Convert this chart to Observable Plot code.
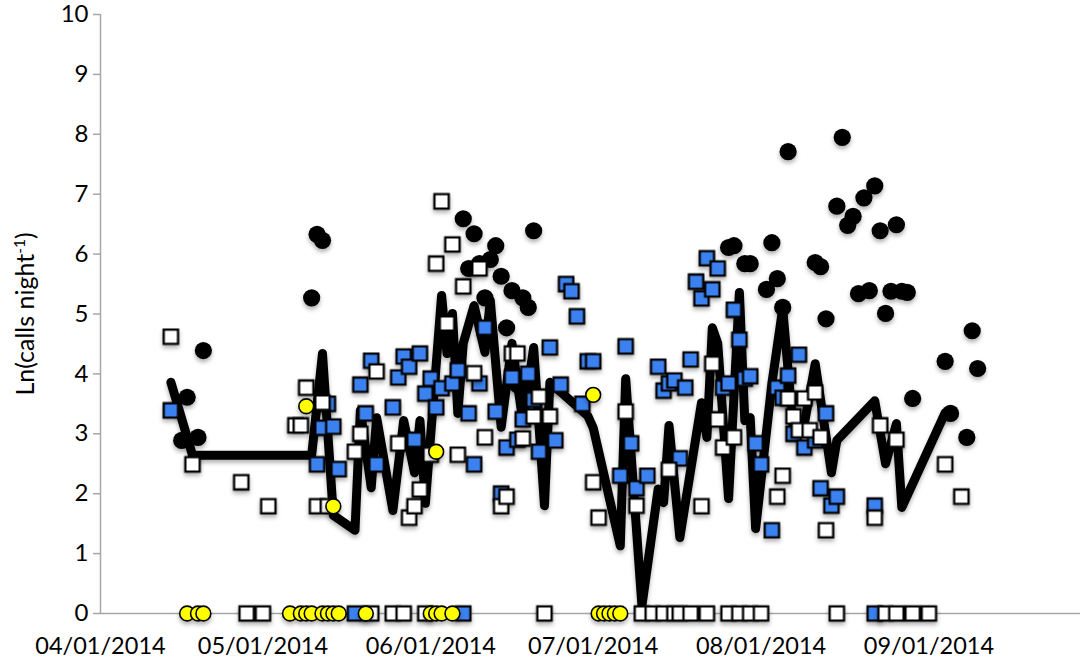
<!DOCTYPE html>
<html><head><meta charset="utf-8">
<script src="https://cdn.jsdelivr.net/npm/d3@7"></script>
<script src="https://cdn.jsdelivr.net/npm/@observablehq/plot@0.6"></script>
<style>
html,body{margin:0;padding:0;background:#fff;}
#chart svg{display:block;}
</style></head><body><div id="chart"></div>
<script>
// Series 1: black circles
const blackCircles = [
["2014-04-16",2.89],["2014-04-17",3.61],["2014-04-19",2.94],["2014-04-20",4.39],
["2014-05-10",5.27],["2014-05-11",6.33],["2014-05-12",6.23],
["2014-06-07",6.59],["2014-06-08",5.76],["2014-06-09",6.34],["2014-06-10",5.84],["2014-06-11",5.27],["2014-06-12",5.91],["2014-06-13",6.14],["2014-06-14",5.63],["2014-06-15",4.77],["2014-06-16",5.39],["2014-06-17",3.82],["2014-06-18",5.27],["2014-06-19",5.11],["2014-06-20",6.39],
["2014-07-26",6.11],["2014-07-27",6.14],["2014-07-29",5.84],["2014-07-30",5.84],["2014-08-02",5.41],["2014-08-03",6.19],["2014-08-04",5.59],["2014-08-05",5.11],["2014-08-06",7.71],["2014-08-11",5.86],["2014-08-12",5.79],["2014-08-13",4.92],["2014-08-15",6.8],["2014-08-16",7.95],["2014-08-17",6.48],["2014-08-18",6.63],["2014-08-19",5.34],["2014-08-20",6.94],["2014-08-21",5.39],["2014-08-22",7.14],["2014-08-23",6.39],["2014-08-24",5.01],["2014-08-25",5.38],["2014-08-26",6.49],["2014-08-27",5.38],["2014-08-28",5.36],["2014-08-29",3.59],["2014-09-04",4.21],["2014-09-05",3.34],["2014-09-08",2.94],["2014-09-09",4.72],["2014-09-10",4.09]
];
// Series 2: blue squares
const blueSquares = [
["2014-04-14",3.39],
["2014-05-11",2.49],["2014-05-12",3.1],["2014-05-13",3.5],["2014-05-14",3.12],["2014-05-15",2.41],["2014-05-18",0],
["2014-05-19",3.82],["2014-05-20",3.34],["2014-05-21",4.22],["2014-05-22",2.49],["2014-05-25",3.44],["2014-05-26",3.94],["2014-05-27",4.29],["2014-05-28",4.12],["2014-05-29",2.9],["2014-05-30",4.34],["2014-05-31",3.67],
["2014-06-01",3.92],["2014-06-02",3.44],["2014-06-03",3.76],["2014-06-05",3.84],["2014-06-06",4.06],["2014-06-07",0],["2014-06-08",3.34],["2014-06-09",2.49],["2014-06-10",3.84],["2014-06-11",4.77],["2014-06-13",3.37],["2014-06-14",2.0],["2014-06-15",2.77],["2014-06-16",3.94],["2014-06-17",2.9],["2014-06-18",3.24],["2014-06-19",4.0],["2014-06-20",3.57],["2014-06-21",2.7],["2014-06-23",4.44],["2014-06-24",2.89],["2014-06-25",3.82],["2014-06-26",5.5],["2014-06-27",5.38],["2014-06-28",4.96],["2014-06-29",3.5],["2014-06-30",4.21],["2014-07-01",4.21],
["2014-07-06",2.3],["2014-07-07",4.46],["2014-07-08",2.84],["2014-07-09",2.09],["2014-07-11",2.3],["2014-07-13",4.12],["2014-07-14",3.72],["2014-07-15",3.84],["2014-07-16",3.89],["2014-07-17",2.59],["2014-07-18",3.77],["2014-07-19",4.24],["2014-07-20",5.54],["2014-07-21",5.26],["2014-07-22",5.93],["2014-07-23",5.41],["2014-07-24",5.76],["2014-07-25",3.77],["2014-07-26",3.84],["2014-07-27",5.07],["2014-07-28",4.57],["2014-07-29",3.92],["2014-07-30",3.96],["2014-07-31",2.84],
["2014-08-01",2.49],["2014-08-03",1.39],["2014-08-04",3.77],["2014-08-05",3.6],["2014-08-06",3.97],["2014-08-07",3.0],["2014-08-08",4.32],["2014-08-09",2.77],["2014-08-11",2.89],["2014-08-12",2.09],["2014-08-13",3.34],["2014-08-14",1.8],["2014-08-15",1.95],["2014-08-22",1.8],["2014-08-22",0]
];
// Series 3: white squares
const whiteSquares = [
["2014-04-14",4.62],["2014-04-18",2.49],["2014-04-27",2.19],["2014-04-28",0],["2014-05-01",0],["2014-05-02",1.79],["2014-05-07",3.14],["2014-05-08",3.14],["2014-05-09",3.77],["2014-05-11",1.79],["2014-05-12",3.52],["2014-05-13",1.79],["2014-05-18",2.7],["2014-05-19",3.0],["2014-05-21",0],["2014-05-22",4.04],["2014-05-25",0],["2014-05-26",2.84],["2014-05-27",0],["2014-05-28",1.6],["2014-05-29",1.79],["2014-05-30",2.07],["2014-05-31",0],
["2014-06-01",2.65],["2014-06-02",5.84],["2014-06-03",6.88],["2014-06-04",4.84],["2014-06-05",6.16],["2014-06-06",2.65],["2014-06-07",5.46],["2014-06-09",4.01],["2014-06-10",5.76],["2014-06-11",2.94],["2014-06-14",1.79],["2014-06-15",1.95],["2014-06-16",4.34],["2014-06-17",4.34],["2014-06-18",2.92],["2014-06-20",3.29],["2014-06-21",3.62],["2014-06-22",0],["2014-06-23",3.29],
["2014-07-01",2.19],["2014-07-02",1.6],["2014-07-07",3.37],["2014-07-09",1.8],["2014-07-10",0],["2014-07-12",0],["2014-07-14",0],["2014-07-15",2.4],["2014-07-16",0],["2014-07-17",0],["2014-07-19",0],["2014-07-21",1.79],["2014-07-22",0],["2014-07-23",4.17],["2014-07-24",3.24],["2014-07-25",2.77],["2014-07-26",0],["2014-07-27",2.94],["2014-07-28",0],["2014-07-30",0],
["2014-08-01",0],["2014-08-04",1.95],["2014-08-05",2.3],["2014-08-06",3.59],["2014-08-07",3.29],["2014-08-08",3.06],["2014-08-09",3.59],["2014-08-10",3.06],["2014-08-11",3.69],["2014-08-12",2.94],["2014-08-13",1.39],["2014-08-15",0],["2014-08-22",1.6],["2014-08-23",3.14],["2014-08-24",0],["2014-08-26",2.9],["2014-08-26",0],["2014-08-29",0],["2014-09-01",0],["2014-09-04",2.49],["2014-09-07",1.95]
];
// Series 4: yellow circles
const yellowCircles = [
["2014-04-17",0],["2014-04-19",0],["2014-04-20",0],["2014-05-06",0],["2014-05-08",0],["2014-05-09",3.46],["2014-05-09",0],["2014-05-10",0],["2014-05-12",0],["2014-05-13",0],["2014-05-14",1.79],["2014-05-14",0],["2014-05-15",0],["2014-05-20",0],["2014-06-01",0],["2014-06-02",2.7],["2014-06-02",0],["2014-06-03",0],["2014-06-05",0],["2014-07-01",3.65],["2014-07-02",0],["2014-07-03",0],["2014-07-04",0],["2014-07-05",0],["2014-07-06",0]
];
// Series 5: thick black trend line
const trendLine = [
["2014-04-14",3.86],["2014-04-18",2.64],["2014-05-10",2.64],["2014-05-12",4.34],["2014-05-14",1.64],["2014-05-18",1.39],["2014-05-19",3.39],["2014-05-21",2.1],["2014-05-22",3.27],["2014-05-25",1.72],["2014-05-27",3.22],["2014-05-29",2.35],["2014-05-30",3.22],["2014-05-31",1.84],["2014-06-03",5.31],["2014-06-04",4.34],["2014-06-05",5.01],["2014-06-06",3.34],["2014-06-07",4.51],["2014-06-09",5.14],["2014-06-11",4.36],["2014-06-12",5.22],["2014-06-14",3.11],["2014-06-16",4.51],["2014-06-18",3.2],["2014-06-20",4.44],["2014-06-22",1.8],["2014-06-23",3.86],["2014-06-30",3.3],["2014-07-01",3.1],["2014-07-06",1.13],["2014-07-07",3.92],["2014-07-10",0.13],["2014-07-13",2.08],["2014-07-14",1.85],["2014-07-15",3.14],["2014-07-17",1.27],["2014-07-21",3.52],["2014-07-22",2.94],["2014-07-23",4.77],["2014-07-24",4.51],["2014-07-26",1.92],["2014-07-28",5.36],["2014-07-29",3.22],["2014-07-30",3.27],["2014-07-31",1.42],["2014-08-03",3.84],["2014-08-05",5.09],["2014-08-07",3.02],["2014-08-09",3.17],["2014-08-11",4.17],["2014-08-14",2.35],["2014-08-15",2.89],["2014-08-22",3.55],["2014-08-24",2.5],["2014-08-26",3.17],["2014-08-27",1.77],["2014-09-04",3.35]
];
const xTickDates = ["2014-04-01","2014-05-01","2014-06-01","2014-07-01","2014-08-01","2014-09-01"];
const yTickValues = [0,1,2,3,4,5,6,7,8,9,10];
const xDomain = ["2014-04-01","2014-09-29"];
const yLabel = "Ln(calls night-1)";

const parse = d3.utcParse("%Y-%m-%d");
const rows = arr => arr.map(([d, v]) => ({date: parse(d), value: v}));

const chart = Plot.plot({
  width: 1083, height: 665,
  marginLeft: 100, marginRight: 3, marginTop: 14, marginBottom: 52,
  style: {fontFamily: "Lato, 'Open Sans', sans-serif", fontSize: "24px", color: "black", background: "white", overflow: "visible"},
  x: {type: "utc", domain: xDomain.map(parse)},
  y: {domain: [0, 10]},
  marks: [
    Plot.axisY({ticks: yTickValues, tickSize: 7, tickPadding: 5, stroke: "#a6a6a6", strokeWidth: 1.5, fill: "black",
      label: yLabel, labelAnchor: "center", labelOffset: 84, labelArrow: "none", fontSize: 24}),
    Plot.axisX({ticks: xTickDates.map(parse), tickSize: 0, tickPadding: 24, tickFormat: d3.utcFormat("%m/%d/%Y"), label: null, fontSize: 23.5, fill: "black"}),
    Plot.ruleX([parse(xDomain[0])], {stroke: "#a6a6a6", strokeWidth: 1.5}),
    Plot.ruleY([0], {stroke: "#a6a6a6", strokeWidth: 1.5}),
    Plot.line(rows(trendLine), {x: "date", y: "value", stroke: "black", strokeWidth: 9, strokeLinejoin: "round", strokeLinecap: "round"}),
    Plot.dot(rows(blackCircles), {x: "date", y: "value", r: 8.6, fill: "black", stroke: "none"}),
    Plot.dot(rows(blueSquares), {x: "date", y: "value", symbol: "square", r: 8.1, fill: "#3b82f0", stroke: "black", strokeWidth: 2.3}),
    Plot.dot(rows(whiteSquares), {x: "date", y: "value", symbol: "square", r: 8.1, fill: "white", stroke: "black", strokeWidth: 2.3}),
    Plot.dot(rows(yellowCircles), {x: "date", y: "value", r: 7.4, fill: "#ffff00", stroke: "black", strokeWidth: 1.6})
  ]
});

chart.querySelectorAll('g[aria-label="dot"], g[aria-label="line"]').forEach(g => {
  g.style.filter = "drop-shadow(0px 3px 2px rgba(0,0,0,0.3))";
});
const lab = chart.querySelector('g[aria-label="y-axis label"] text');
if (lab) {
  lab.setAttribute("font-size", "25");
  lab.textContent = "";
  const t1 = document.createElementNS("http://www.w3.org/2000/svg", "tspan");
  t1.textContent = "Ln(calls night";
  const t2 = document.createElementNS("http://www.w3.org/2000/svg", "tspan");
  t2.textContent = "-1";
  t2.setAttribute("baseline-shift", "super");
  t2.setAttribute("font-size", "0.62em");
  const t3 = document.createElementNS("http://www.w3.org/2000/svg", "tspan");
  t3.textContent = ")";
  lab.append(t1, t2, t3);
}
document.getElementById("chart").append(chart);
</script></body></html>
